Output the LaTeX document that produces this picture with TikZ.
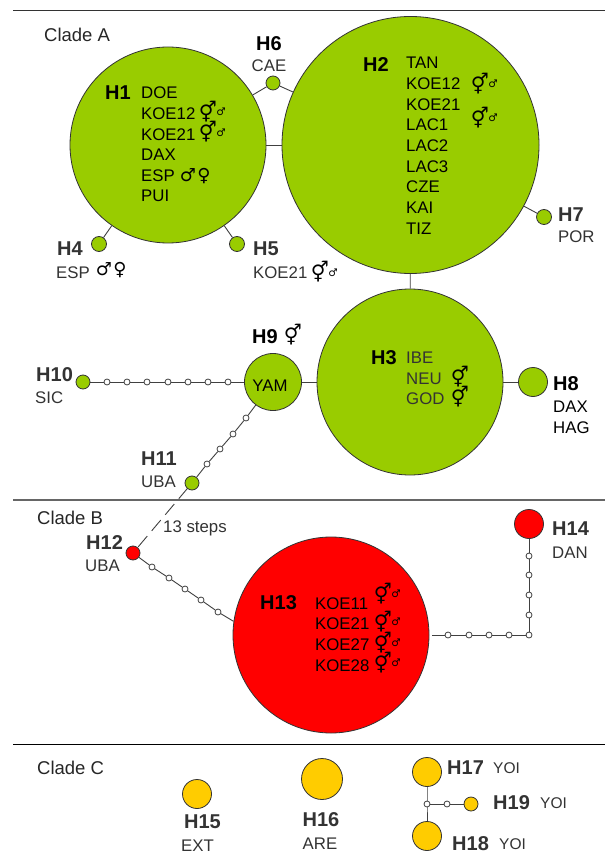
\documentclass[tikz,border=0pt]{standalone}
\usepackage{fontspec}
\setmainfont{Liberation Sans}
\newfontfamily\symfont{DejaVu Sans}
\usetikzlibrary{backgrounds}
\definecolor{hgreen}{HTML}{99CC00}
\definecolor{hred}{HTML}{FF0000}
\definecolor{hyellow}{HTML}{FFCC00}
\definecolor{ink}{HTML}{333333}
\definecolor{linec}{HTML}{404040}
\newcommand{\fsz}[1]{\fontsize{#1}{#1}\selectfont}
\tikzset{
  x=1pt,y=-1pt,
  hap/.style={circle,draw=ink,line width=0.8pt,inner sep=0pt,minimum size=2*#1*1pt},
  green/.style={hap=#1,fill=hgreen},
  redh/.style={hap=#1,fill=hred},
  yel/.style={hap=#1,fill=hyellow},
  stepdot/.style={circle,draw=linec,fill=white,line width=0.8pt,inner sep=0pt,minimum size=6pt},
  link/.style={draw=linec,line width=0.9pt},
  divider/.style={draw=#1,line width=1.1pt},
  txtbase/.style={inner sep=0pt,anchor=west,text depth=0pt},
  hlabel/.style={txtbase,text height=14.3pt,font=\fsz{20}\bfseries,text=ink},
  hlabelk/.style={txtbase,text height=14.3pt,font=\fsz{20}\bfseries,text=black},
  pop/.style={txtbase,text height=12pt,font=\fsz{16.8},text=ink},
  popk/.style={txtbase,text height=12pt,font=\fsz{16.8},text=black},
  clade/.style={txtbase,text height=13.3pt,font=\fsz{18.5},text=black!85},
  yoi/.style={txtbase,text height=11.2pt,font=\fsz{15.5},text=ink},
  symb/.style={inner sep=0pt,font=\fsz{20}\symfont,text=black},
  symm/.style={inner sep=0pt,font=\fsz{18}\symfont,text=black},
  symbs/.style={inner sep=0pt,font=\fsz{10.5}\symfont,text=black},
}
\begin{document}
\begin{tikzpicture}
\useasboundingbox (0,0) rectangle (605,858);
% dividers
\coordinate (t1) at (13,10.5); \coordinate (t2) at (605,10.5);
\coordinate (m1) at (13,500); \coordinate (m2) at (605,500);
\coordinate (b1) at (13,744.5); \coordinate (b2) at (605,744.5);
\draw[divider=ink] (t1) -- (t2);
\draw[divider=black!60] (m1) -- (m2);
\draw[divider=black] (b1) -- (b2);
% haplotype circles
\node[green=128.5] (H2) at (410.5,145) {};
\node[green=98] (H1) at (168,145) {};
\node[green=93] (H3) at (410,382) {};
\node[green=7.5] (H4) at (99,244) {};
\node[green=7.5] (H5) at (237,244) {};
\node[green=7] (H6) at (273,83) {};
\node[green=7.5] (H7) at (544,217) {};
\node[green=14.5] (H8) at (533,382) {};
\node[green=28.5] (H9) at (273,382) {};
\node[green=7] (H10) at (83,382) {};
\node[green=7] (H11) at (192,483) {};
\node[redh=7] (H12) at (133,553) {};
\node[redh=98] (H13) at (331,635) {};
\node[redh=14.5] (H14) at (529,524) {};
\node[yel=14.5] (H15) at (197,794) {};
\node[yel=20.5] (H16) at (322,779) {};
\node[yel=14.5] (H17) at (427,772) {};
\node[yel=14.5] (H18) at (427,836) {};
\node[yel=7] (H19) at (471,804) {};
% step dots
\foreach \n/\x/\y in {a1/107/382,a2/127/382,a3/147/382,a4/168/382,a5/188/382,a6/208/382,a7/228/382,
  b1/246/418,b2/233/434,b3/220/449,b4/207/464,
  c1/152/567,c2/169/578,c3/185/589,c4/201/600,c5/218/612,
  d1/448/635,d2/469/635,d3/489/635,d4/509/635,d5/529/635,d6/529/615,d7/529/595,d8/529/575,d9/529/556,
  e1/427/804,e2/447/804}
  \node[stepdot] (\n) at (\x,\y) {};
% connectors
\begin{scope}[on background layer]
\fill[white] (0,0) rectangle (605,858);
\draw[link] (H1) -- (H2);
\draw[link] (H1) -- (H6);
\draw[link] (H6) -- (H2);
\draw[link] (H1) -- (H4);
\draw[link] (H1) -- (H5);
\draw[link] (H2) -- (H7);
\draw[link] (H2) -- (H3);
\draw[link] (H3) -- (H8);
\draw[link] (H3) -- (H9);
\draw[link] (H10) -- (a1) -- (a2) -- (a3) -- (a4) -- (a5) -- (a6) -- (a7) -- (H9);
\draw[link] (H9) -- (b1) -- (b2) -- (b3) -- (b4) -- (H11);
\draw[link,dash pattern=on 14pt off 7pt,dash phase=14.5pt] (H11.center) -- (H12.center);
\draw[link] (H12) -- (c1) -- (c2) -- (c3) -- (c4) -- (c5) -- (H13.172);
\draw[link] ([xshift=3pt]H13.east) -- (d1) -- (d2) -- (d3) -- (d4) -- (d5.center) -- (d6) -- (d7) -- (d8) -- (d9) -- (H14);
\draw[link] (H17) -- (e1.center) -- (H18);
\draw[link] (e1.center) -- (e2) -- (H19);
\end{scope}
% clade labels
\node[clade] (cA) at (44,35) {Clade A};
\node[clade] (cB) at (37,518) {Clade B};
\node[clade] (cC) at (37,768) {Clade C};
% H1
\node[hlabelk] (l1) at (105,92) {H1};
\foreach \t/\y in {DOE/93,KOE12/114,KOE21/135,DAX/155,ESP/176,PUI/196} \node[popk] (p1\t) at (141,\y) {\t};
\node[symb] (s1) at (208,112) {⚥}; \node[symbs] (s1b) at (221,112) {♂};
\node[symb] (s2) at (208,132) {⚥}; \node[symbs] (s2b) at (221,133) {♂};
\node[symm] (s3) at (188,175) {♂}; \node[symm] (s3b) at (204,176) {♀};
% H2
\node[hlabelk] (l2) at (363,64) {H2};
\foreach \t/\y in {TAN/63,KOE12/84,KOE21/104.5,LAC1/125,LAC2/146,LAC3/167,CZE/187,KAI/208,TIZ/229} \node[popk] (p2\t) at (406,\y) {\t};
\node[symb] (s4) at (480,84) {⚥}; \node[symbs] (s4b) at (493,84) {♂};
\node[symb] (s5) at (480,118) {⚥}; \node[symbs] (s5b) at (493,118) {♂};
% H3
\node[hlabelk] (l3) at (371,357) {H3};
\node[pop] (p3a) at (406,357) {IBE};
\node[pop] (p3b) at (406,378) {NEU};
\node[pop] (p3c) at (406,398) {GOD};
\node[symb] (s6) at (460,377) {⚥};
\node[symb] (s7) at (460,397) {⚥};
% H4 H5 H6 H7 H8
\node[hlabel] (l4) at (57,248) {H4};
\node[pop] (p4) at (56,272) {ESP};
\node[symm] (s8) at (104,269) {♂}; \node[symm] (s8b) at (120,270) {♀};
\node[hlabel] (l5) at (253,248) {H5};
\node[pop] (p5) at (253,272) {KOE21};
\node[symb] (s9) at (320,272) {⚥}; \node[symbs] (s9b) at (333,273) {♂};
\node[hlabelk,anchor=center] (l6) at (269,43) {H6};
\node[pop,anchor=center] (p6) at (269,66) {CAE};
\node[hlabel] (l7) at (558,214) {H7};
\node[pop] (p7) at (558,237) {POR};
\node[hlabelk] (l8) at (553,383) {H8};
\node[popk] (p8a) at (553,406) {DAX};
\node[popk] (p8b) at (553,427) {HAG};
% H9 H10 H11 H12
\node[hlabelk] (l9) at (252,336) {H9};
\node[symb] (s10) at (293,335) {⚥};
\node[popk,anchor=center] (p9) at (270,385) {YAM};
\node[hlabel] (l10) at (36,374) {H10};
\node[pop] (p10) at (35,397) {SIC};
\node[hlabel] (l11) at (141,458) {H11};
\node[pop] (p11) at (141,481) {UBA};
\node[hlabel] (l12) at (86,542) {H12};
\node[pop] (p12) at (85,565) {UBA};
\node[pop] (st) at (163,526) {13 steps};
% H13
\node[hlabelk] (l13) at (260,602) {H13};
\foreach \t/\y in {KOE11/603,KOE21/623,KOE27/644,KOE28/665} \node[popk] (p13\t) at (315,\y) {\t};
\foreach \i/\y in {1/594,2/622,3/643,4/663} {
  \node[symb] (s13\i) at (383,\y) {⚥}; \node[symbs] (s13\i b) at (396,\y) {♂};
}
% H14
\node[hlabel] (l14) at (552,528) {H14};
\node[pop] (p14) at (552,552) {DAN};
% Clade C
\node[hlabel,anchor=center] (l15) at (202.5,821) {H15};
\node[pop,anchor=center] (p15) at (197.5,845) {EXT};
\node[hlabel,anchor=center] (l16) at (321,819) {H16};
\node[pop,anchor=center] (p16) at (320,843) {ARE};
\node[hlabel] (l17) at (447,767) {H17};
\node[yoi] (p17) at (493,768) {YOI};
\node[hlabel] (l19) at (493,802) {H19};
\node[yoi] (p19) at (540,803) {YOI};
\node[hlabel] (l18) at (452,843) {H18};
\node[yoi] (p18) at (499,844) {YOI};
\end{tikzpicture}
\end{document}
